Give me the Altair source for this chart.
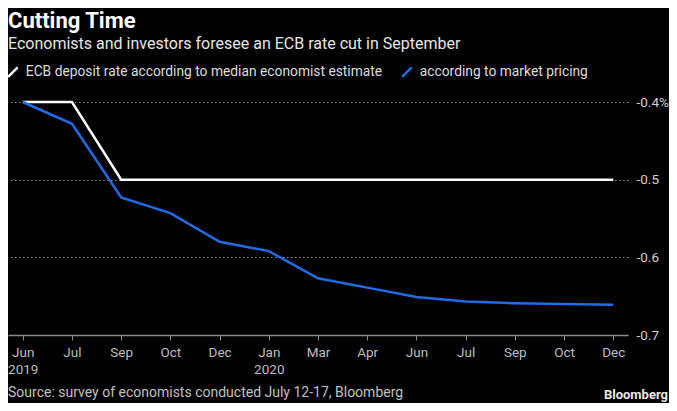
import altair as alt
import pandas as pd

months = ["Jun 2019", "Jul 2019", "Sep 2019", "Oct 2019", "Dec 2019", "Jan 2020",
          "Mar 2020", "Apr 2020", "Jun 2020", "Jul 2020", "Sep 2020", "Oct 2020", "Dec 2020"]
economist = [-0.40, -0.40, -0.50, -0.50, -0.50, -0.50, -0.50, -0.50, -0.50, -0.50, -0.50, -0.50, -0.50]
market = [-0.400, -0.428, -0.523, -0.543, -0.580, -0.592, -0.627, -0.639, -0.651, -0.657, -0.659, -0.660, -0.661]
series_names = ["ECB deposit rate according to median economist estimate", "according to market pricing"]
y_ticks = [-0.4, -0.5, -0.6, -0.7]

title_text = "Cutting Time"
subtitle_text = "Economists and investors foresee an ECB rate cut in September"
source_text = "Source: survey of economists conducted July 12-17, Bloomberg"
brand_text = "Bloomberg"

FONT = "Roboto"

rows = []
for m, e, k in zip(months, economist, market):
    rows.append({"month": m, "value": e, "series": series_names[0]})
    rows.append({"month": m, "value": k, "series": series_names[1]})
df = pd.DataFrame(rows)

W, H = 620, 233

lines = alt.Chart(df).mark_line(strokeWidth=2.5).encode(
    x=alt.X("month:N", sort=months, title=None,
            scale=alt.Scale(type="point", padding=0.3),
            axis=alt.Axis(labelAngle=0, domainColor="#8a8a8a", domainWidth=1.5,
                          tickColor="#8a8a8a", tickSize=5, tickWidth=1,
                          labelColor="#bdbdbd", labelFontSize=13.5, labelFont=FONT,
                          labelPadding=5, labelLineHeight=17, grid=False,
                          labelExpr="(datum.value == 'Jun 2019' || datum.value == 'Jan 2020') ? split(datum.value, ' ') : split(datum.value, ' ')[0]")),
    y=alt.Y("value:Q", title=None,
            scale=alt.Scale(domain=[-0.7, -0.4], nice=False, zero=False),
            axis=alt.Axis(orient="right", values=y_ticks, domain=False, ticks=False,
                          labelColor="#d0d0d0", labelFontSize=13.5, labelFont=FONT,
                          labelPadding=8,
                          labelExpr="datum.value == -0.4 ? '-0.4%' : '-' + format(-datum.value, '.1f')",
                          grid=True, gridColor="#8a8a8a", gridDash=[1.5, 2.5], gridWidth=1)),
    color=alt.Color("series:N", sort=series_names,
                    scale=alt.Scale(domain=series_names, range=["#ffffff", "#1e6de6"]),
                    legend=alt.Legend(orient="none", legendX=-2, legendY=-37, direction="horizontal",
                                      title=None, symbolType="M-1,1L1,-1", symbolSize=90,
                                      symbolStrokeWidth=2.5, labelFontSize=13.8, labelFont=FONT,
                                      labelColor="#dcdcdc", labelLimit=0, columnPadding=14,
                                      labelOffset=6)),
)

source = alt.Chart(pd.DataFrame({"t": [source_text]})).mark_text(
    align="left", baseline="middle", fontSize=14, font=FONT, color="#c0c0c0"
).encode(x=alt.value(0), y=alt.value(291), text="t:N")

brand = alt.Chart(pd.DataFrame({"t": [brand_text]})).mark_text(
    align="right", baseline="middle", fontSize=13, font=FONT, fontWeight="bold", color="#e8e8e8"
).encode(x=alt.value(660), y=alt.value(293), text="t:N")

chart = alt.layer(lines, source, brand).properties(
    width=W, height=H,
    autosize=alt.AutoSizeParams(type="none"),
    padding={"left": 0, "top": 94, "right": 41, "bottom": 68},
    background="#000000",
    title=alt.TitleParams(title_text, subtitle=subtitle_text, anchor="start", frame="group",
                          font=FONT, fontSize=22, fontWeight="bold", color="#ffffff",
                          subtitleFont=FONT, subtitleFontSize=16, subtitleColor="#e6e6e6",
                          subtitlePadding=3, offset=12),
).configure_view(stroke=None)

chart.save("out.html", embed_options={"renderer": "svg", "actions": False})
